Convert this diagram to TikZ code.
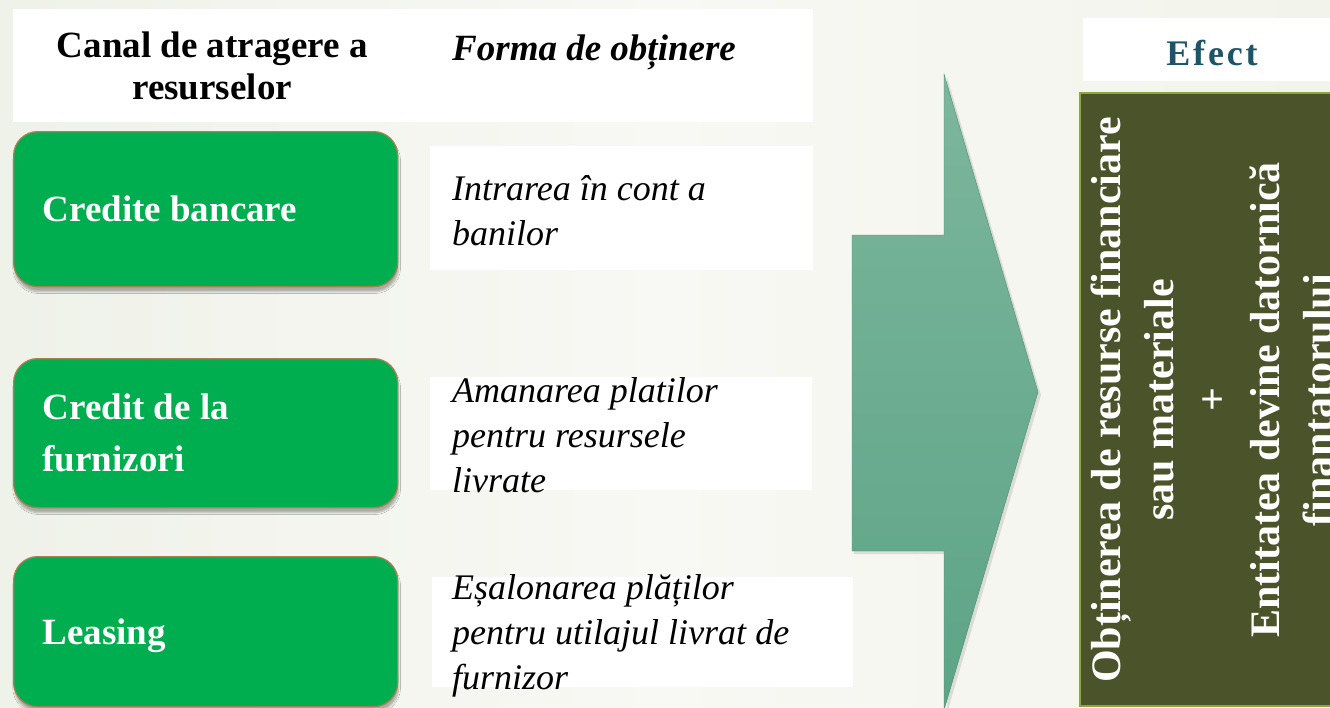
\documentclass[tikz,border=0pt]{standalone}
\usepackage{fontspec}
\setmainfont{Liberation Serif}
\usetikzlibrary{shadows.blur}
\definecolor{boxgreen}{RGB}{0,174,80}
\definecolor{boxborder}{RGB}{166,128,80}
\definecolor{arrowtop}{RGB}{124,182,157}
\definecolor{arrowbot}{RGB}{93,164,135}
\definecolor{olivefill}{RGB}{74,83,41}
\definecolor{oliveedge}{RGB}{140,165,62}
\definecolor{efectblue}{RGB}{31,84,104}
\definecolor{bgleft}{RGB}{239,242,233}
\definecolor{bgmid}{RGB}{248,248,244}
\definecolor{bgright}{RGB}{242,244,235}
\tikzset{
  greenbox/.style={rounded corners=24pt, fill=boxgreen, draw=boxborder, line width=1.3pt,
    blur shadow={shadow xshift=1pt, shadow yshift=-5pt, shadow opacity=30, shadow blur steps=6},
    text=white, font=\bfseries\fontsize{37}{52}\selectfont, align=flush left,
    anchor=north west, inner xsep=29pt, inner ysep=0pt, text width=326pt, minimum width=384pt},
  whitebox/.style={fill=white, draw=none, inner sep=0pt, anchor=north west},
  desctext/.style={font=\itshape\fontsize{36}{45}\selectfont, align=flush left, anchor=base west, inner sep=0pt},
  headtext/.style={font=\bfseries\fontsize{37}{42}\selectfont, align=center, inner sep=0pt},
}
\begin{document}
\begin{tikzpicture}[x=1pt,y=-1pt]
\useasboundingbox (0,0) rectangle (1330,707);
\clip (0,0) rectangle (1330,707);
\shade[left color=bgleft, right color=bgright, middle color=bgmid] (0,0) rectangle (1330,707);

% headers
\node[whitebox, minimum width=398pt, minimum height=113pt, headtext, anchor=north west] (hdrA) at (13,9)
  {Canal de atragere a\\resurselor};
\node[whitebox, minimum width=402pt, minimum height=113pt] (hdrB) at (411,9) {};
\node[font=\bfseries\itshape\fontsize{37}{42}\selectfont, anchor=base west, inner sep=0pt] (hdrBt) at (452,60) {Forma de obținere};

% channel boxes
\node[greenbox, minimum height=155pt] (g1) at (13,131) {Credite bancare};
\node[greenbox, minimum height=149pt] (g2) at (13,358) {Credit de la\\furnizori};
\node[greenbox, minimum height=150pt, text depth=0pt] (g3) at (13,556) {Leasing};

% description boxes (text anchored at the baseline of its last line)
\node[whitebox, minimum width=383pt, minimum height=124pt] (d1) at (430,146) {};
\node[whitebox, minimum width=382pt, minimum height=113pt] (d2) at (430,377) {};
\node[whitebox, minimum width=421pt, minimum height=110pt] (d3) at (432,577) {};
\node[desctext] (d1t) at (452,245) {Intrarea în cont a\\banilor};
\node[desctext] (d2t) at (452,492) {Amanarea platilor\\pentru resursele\\livrate};
\node[desctext] (d3t) at (452,689) {Eșalonarea plăților\\pentru utilajul livrat de\\furnizor};

% big arrow
\fill[black, opacity=0.10] (854,238) -- (947,238) -- (947,77) -- (1041,395) -- (947,713) -- (947,554) -- (854,554) -- cycle;
\shade[top color=arrowtop, bottom color=arrowbot, draw=arrowbot!85!black, line width=0.4pt]
  (852,235) -- (944,235) -- (944,74) -- (1038,392) -- (944,710) -- (944,551) -- (852,551) -- cycle;

% effect
\node[whitebox, minimum width=260pt, minimum height=63pt] (efh) at (1083,18) {};
\node[font=\bfseries\fontsize{36}{40}\selectfont\addfontfeatures{LetterSpace=8}, text=efectblue, anchor=base, inner sep=0pt] (efht) at (1212,65) {Efect};
\node[fill=olivefill, draw=oliveedge, line width=1.5pt, anchor=north west, minimum width=260pt, minimum height=613pt, inner sep=0pt] (eff) at (1079,92) {};
\node[rotate=90, text=white, font=\bfseries\fontsize{42}{53}\selectfont, align=center, inner sep=0pt] (efft) at (1217,400)
  {Obținerea de resurse financiare\\sau materiale\\+\\Entitatea devine datornică\\finanțatorului};
\end{tikzpicture}
\end{document}
